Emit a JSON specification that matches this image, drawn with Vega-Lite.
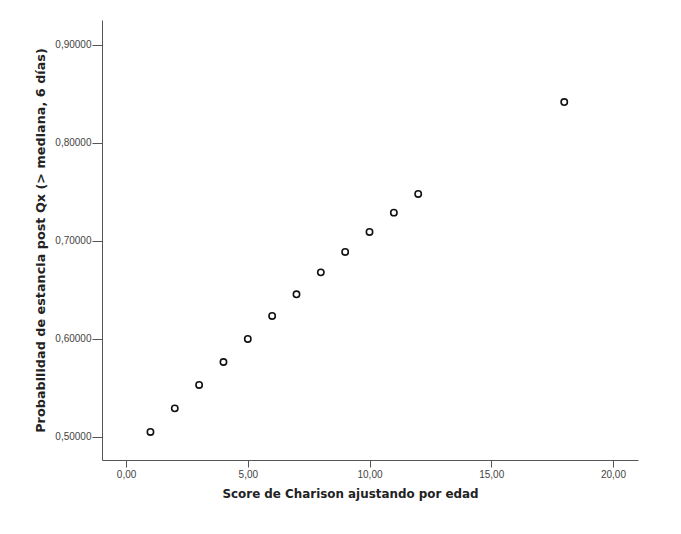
{
  "$schema": "https://vega.github.io/schema/vega-lite/v6.json",
  "width": 536,
  "height": 440,
  "autosize": {"type": "none"},
  "padding": {"left": 102, "top": 20, "right": 43, "bottom": 74},
  "background": "white",
  "config": {
    "view": {"stroke": null},
    "font": "Liberation Sans"
  },
  "data": {
    "values": [
      {"score": 1, "prob": 0.5051},
      {"score": 2, "prob": 0.5292},
      {"score": 3, "prob": 0.5531},
      {"score": 4, "prob": 0.5765},
      {"score": 5, "prob": 0.6000},
      {"score": 6, "prob": 0.6235},
      {"score": 7, "prob": 0.6456},
      {"score": 8, "prob": 0.6680},
      {"score": 9, "prob": 0.6888},
      {"score": 10, "prob": 0.7092},
      {"score": 11, "prob": 0.7289},
      {"score": 12, "prob": 0.7480},
      {"score": 18, "prob": 0.8418}
    ]
  },
  "mark": {"type": "point", "shape": "circle", "filled": false, "stroke": "#111", "strokeWidth": 1.6, "size": 40, "opacity": 1},
  "encoding": {
    "x": {
      "field": "score", "type": "quantitative",
      "scale": {"domain": [-0.99, 21.03], "nice": false, "zero": false},
      "axis": {
        "title": "Score de Charison ajustando por edad",
        "values": [0, 5, 10, 15, 20],
        "labelExpr": "replace(format(datum.value, '.2f'), '.', ',')",
        "grid": false,
        "domainColor": "#555", "tickColor": "#555", "tickSize": 7,
        "labelFontSize": 10, "labelColor": "#444", "labelPadding": 2,
        "titleFont": "DejaVu Sans", "titleFontSize": 11.9, "titleFontWeight": "bold", "titleColor": "#222", "titlePadding": 9,
        "titleX": 248
      }
    },
    "y": {
      "field": "prob", "type": "quantitative",
      "scale": {"domain": [0.4765, 0.9255], "nice": false, "zero": false},
      "axis": {
        "title": "Probabilidad de estancia post Qx (> mediana, 6 días)",
        "values": [0.5, 0.6, 0.7, 0.8, 0.9],
        "labelExpr": "replace(format(datum.value, '.5f'), '.', ',')",
        "grid": false,
        "domainColor": "#555", "tickColor": "#555", "tickSize": 10,
        "labelFontSize": 10, "labelColor": "#444", "labelPadding": 1,
        "titleFont": "DejaVu Sans", "titleFontSize": 12.8, "titleFontWeight": "bold", "titleColor": "#222", "titlePadding": 7
      }
    }
  }
}
